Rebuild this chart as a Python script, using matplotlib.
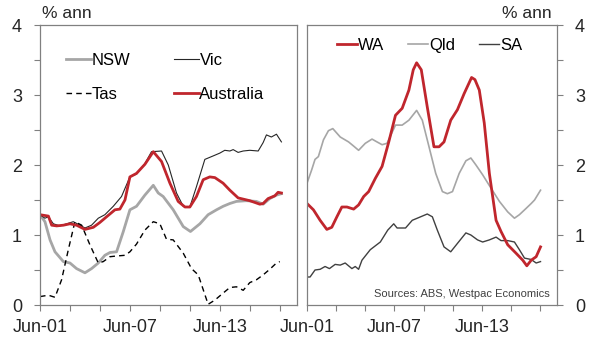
import matplotlib
matplotlib.use("Agg")
import matplotlib.pyplot as plt

plt.rcParams['font.family'] = ['Liberation Sans', 'DejaVu Sans']

# population growth, % annual, by state (decimal year, value)
nsw_t = [2001.50, 2001.83, 2002.17, 2002.50, 2003.06, 2003.50, 2003.94, 2004.50, 2004.94,
         2005.39, 2005.83, 2006.17, 2006.61, 2007.06, 2007.50, 2007.94, 2008.50, 2009.06,
         2009.39, 2009.72, 2010.39, 2011.06, 2011.54, 2012.17, 2012.72, 2013.28, 2013.72,
         2014.17, 2014.61, 2015.28, 2015.94, 2016.39, 2016.83, 2017.28, 2017.61]
nsw_v = [1.29, 1.19, 0.93, 0.76, 0.62, 0.60, 0.52, 0.46, 0.52,
         0.60, 0.71, 0.75, 0.76, 1.05, 1.36, 1.41, 1.57, 1.71,
         1.60, 1.55, 1.36, 1.12, 1.05, 1.16, 1.29, 1.36, 1.41,
         1.45, 1.48, 1.49, 1.48, 1.44, 1.52, 1.57, 1.59]

vic_t = [2001.50, 2001.83, 2002.06, 2002.39, 2002.83, 2003.28, 2003.72, 2004.17, 2004.50,
         2004.94, 2005.39, 2005.83, 2006.39, 2006.94, 2007.50, 2007.94, 2008.50, 2008.94,
         2009.61, 2010.06, 2010.61, 2011.06, 2011.50, 2011.94, 2012.50, 2013.06, 2013.50,
         2013.83, 2014.17, 2014.39, 2014.72, 2015.06, 2015.50, 2016.06, 2016.39, 2016.61,
         2016.94, 2017.28, 2017.61]
vic_v = [1.29, 1.24, 1.26, 1.16, 1.13, 1.16, 1.19, 1.14, 1.10,
         1.14, 1.24, 1.29, 1.41, 1.55, 1.83, 1.87, 2.02, 2.19,
         2.20, 2.00, 1.60, 1.41, 1.40, 1.69, 2.08, 2.13, 2.17,
         2.21, 2.20, 2.22, 2.18, 2.20, 2.21, 2.20, 2.32, 2.43,
         2.40, 2.44, 2.33]

tas_t = [2001.50, 2002.06, 2002.50, 2002.94, 2003.39, 2003.83, 2004.28, 2004.83, 2005.39,
         2005.72, 2006.17, 2006.61, 2007.17, 2007.50, 2007.94, 2008.50, 2009.06, 2009.50,
         2009.94, 2010.39, 2011.06, 2011.61, 2012.06, 2012.72, 2013.17, 2013.72, 2014.17,
         2014.61, 2015.06, 2015.50, 2015.94, 2016.39, 2016.83, 2017.28, 2017.50]
tas_v = [0.12, 0.14, 0.11, 0.36, 0.79, 1.19, 1.14, 0.86, 0.60,
         0.62, 0.69, 0.70, 0.71, 0.76, 0.87, 1.07, 1.19, 1.16,
         0.94, 0.93, 0.74, 0.52, 0.43, 0.01, 0.07, 0.17, 0.25,
         0.26, 0.21, 0.32, 0.36, 0.43, 0.51, 0.60, 0.62]

aus_t = [2001.50, 2002.06, 2002.28, 2002.61, 2003.06, 2003.50, 2003.94, 2004.50, 2005.06,
         2005.50, 2005.94, 2006.50, 2006.83, 2007.17, 2007.50, 2007.94, 2008.50, 2009.06,
         2009.61, 2010.17, 2010.72, 2011.17, 2011.50, 2011.94, 2012.39, 2012.83, 2013.17,
         2013.72, 2014.17, 2014.72, 2015.50, 2016.17, 2016.39, 2016.72, 2017.17, 2017.39,
         2017.61]
aus_v = [1.29, 1.27, 1.14, 1.13, 1.14, 1.16, 1.14, 1.08, 1.11,
         1.18, 1.26, 1.36, 1.37, 1.50, 1.83, 1.88, 2.01, 2.19,
         2.05, 1.74, 1.48, 1.40, 1.40, 1.55, 1.79, 1.83, 1.82,
         1.74, 1.64, 1.53, 1.49, 1.44, 1.45, 1.52, 1.56, 1.61,
         1.60]

wa_t = [2001.50, 2001.94, 2002.40, 2002.86, 2003.20, 2003.55, 2003.89, 2004.24, 2004.70,
        2005.04, 2005.39, 2005.73, 2006.19, 2006.65, 2007.11, 2007.57, 2008.03, 2008.49,
        2008.79, 2009.02, 2009.34, 2009.75, 2010.21, 2010.56, 2010.90, 2011.36, 2011.82,
        2012.28, 2012.79, 2013.02, 2013.32, 2013.66, 2014.01, 2014.47, 2014.81, 2015.27,
        2015.84, 2016.30, 2016.58, 2016.88, 2017.22, 2017.52]
wa_v = [1.45, 1.36, 1.21, 1.08, 1.11, 1.26, 1.40, 1.40, 1.37,
        1.43, 1.55, 1.62, 1.81, 1.98, 2.33, 2.71, 2.81, 3.07,
        3.36, 3.46, 3.36, 2.83, 2.26, 2.26, 2.33, 2.64, 2.79,
        3.02, 3.25, 3.22, 3.07, 2.60, 1.88, 1.21, 1.05, 0.86,
        0.74, 0.64, 0.56, 0.64, 0.69, 0.83]

qld_t = [2001.50, 2001.82, 2002.05, 2002.28, 2002.63, 2002.97, 2003.27, 2003.78, 2004.35,
         2004.70, 2005.04, 2005.50, 2005.96, 2006.30, 2006.65, 2006.99, 2007.57, 2008.03,
         2008.49, 2009.02, 2009.41, 2009.87, 2010.33, 2010.79, 2011.13, 2011.48, 2011.94,
         2012.40, 2012.74, 2013.09, 2013.55, 2014.12, 2014.70, 2015.27, 2015.73, 2016.07,
         2016.53, 2016.88, 2017.11, 2017.52]
qld_v = [1.74, 1.93, 2.08, 2.12, 2.36, 2.49, 2.52, 2.40, 2.33,
         2.27, 2.21, 2.31, 2.37, 2.33, 2.29, 2.31, 2.57, 2.57,
         2.64, 2.78, 2.64, 2.26, 1.88, 1.62, 1.59, 1.62, 1.88,
         2.06, 2.10, 2.00, 1.86, 1.67, 1.48, 1.33, 1.24, 1.29,
         1.38, 1.45, 1.50, 1.64]

sa_t = [2001.50, 2001.71, 2002.05, 2002.40, 2002.74, 2003.04, 2003.43, 2003.78, 2004.12,
        2004.58, 2004.81, 2005.04, 2005.27, 2005.84, 2006.53, 2007.04, 2007.45, 2007.68,
        2008.26, 2008.72, 2009.18, 2009.75, 2010.10, 2010.44, 2010.90, 2011.36, 2011.82,
        2012.40, 2012.74, 2013.20, 2013.55, 2014.01, 2014.47, 2014.81, 2015.27, 2015.73,
        2016.07, 2016.42, 2016.88, 2017.22, 2017.52]
sa_v = [0.40, 0.40, 0.50, 0.51, 0.55, 0.52, 0.58, 0.57, 0.60,
        0.52, 0.55, 0.51, 0.64, 0.79, 0.90, 1.07, 1.16, 1.10,
        1.10, 1.21, 1.25, 1.30, 1.26, 1.07, 0.83, 0.76, 0.88,
        1.03, 1.00, 0.93, 0.90, 0.93, 0.97, 0.92, 0.92, 0.90,
        0.79, 0.67, 0.65, 0.60, 0.62]

x_ticks = [2001.5, 2003.5, 2005.5, 2007.5, 2009.5, 2011.5, 2013.5, 2015.5, 2017.5]
x_labels = ['Jun-01', '', '', 'Jun-07', '', '', 'Jun-13', '', '']
y_ticks = [0, 0.5, 1, 1.5, 2, 2.5, 3, 3.5, 4]
y_labels = ['0', '', '1', '', '2', '', '3', '', '4']

RED = '#C0262D'
GREY = '#A6A6A6'
EDGE = '#808080'

fig = plt.figure(figsize=(5.91, 3.41), dpi=100)
ax1 = fig.add_axes([40 / 591, 36 / 341, 257 / 591, 280 / 341])
ax2 = fig.add_axes([307 / 591, 36 / 341, 250 / 591, 280 / 341])


def style_axes(ax, right=False):
    ax.set_xlim(2001.5, 2018.65)
    ax.set_ylim(0, 4)
    ax.set_xticks(x_ticks)
    ax.set_xticklabels(x_labels)
    ax.set_yticks(y_ticks)
    ax.set_yticklabels(y_labels)
    for sp in ax.spines.values():
        sp.set_color(EDGE)
        sp.set_linewidth(0.9)
    ax.tick_params(axis='x', direction='out', length=4, width=0.8, color=EDGE,
                   labelsize=13, pad=6, labelcolor='#262626')
    ax.tick_params(axis='y', direction='out', length=4, width=0.8, color=EDGE,
                   labelsize=13, pad=9, labelcolor='#262626')
    if right:
        ax.yaxis.tick_right()


# left panel
style_axes(ax1)
ax1.plot(nsw_t, nsw_v, color=GREY, lw=2.0, label='NSW')
ax1.plot(vic_t, vic_v, color='#262626', lw=0.8, label='Vic')
ax1.plot(tas_t, tas_v, color='black', lw=1.0, ls=(0, (4, 3)), label='Tas')
ax1.plot(aus_t, aus_v, color=RED, lw=2.0, label='Australia')
h, l = ax1.get_legend_handles_labels()
order = [0, 2, 1, 3]
ax1.legend([h[i] for i in order], [l[i] for i in order], ncol=2, frameon=False,
           fontsize=12, handlelength=1.5, handletextpad=0.05, columnspacing=2.6,
           labelspacing=1.15, loc='upper left', bbox_to_anchor=(0.10, 0.90),
           borderpad=0, borderaxespad=0)
fig.text(42 / 591, 1 - 13 / 341, '% ann', fontsize=12.5, color='#262626',
         ha='left', va='center')

# right panel
style_axes(ax2, right=True)
ax2.plot(sa_t, sa_v, color='#404040', lw=1.0, label='SA')
ax2.plot(qld_t, qld_v, color=GREY, lw=1.2, label='Qld')
ax2.plot(wa_t, wa_v, color=RED, lw=2.0, label='WA')
h, l = ax2.get_legend_handles_labels()
ax2.legend(h[::-1], l[::-1], ncol=3, frameon=False, fontsize=12,
           handlelength=1.2, handletextpad=0.05, columnspacing=1.45,
           loc='upper left', bbox_to_anchor=(0.12, 0.955),
           borderpad=0, borderaxespad=0)
ax2.text(0.97, 0.04, 'Sources: ABS, Westpac Economics', transform=ax2.transAxes,
         fontsize=8, color='#404040', ha='right', va='center')
fig.text(552 / 591, 1 - 13 / 341, '% ann', fontsize=12.5, color='#262626',
         ha='right', va='center')

fig.savefig('out.png', dpi=100)
